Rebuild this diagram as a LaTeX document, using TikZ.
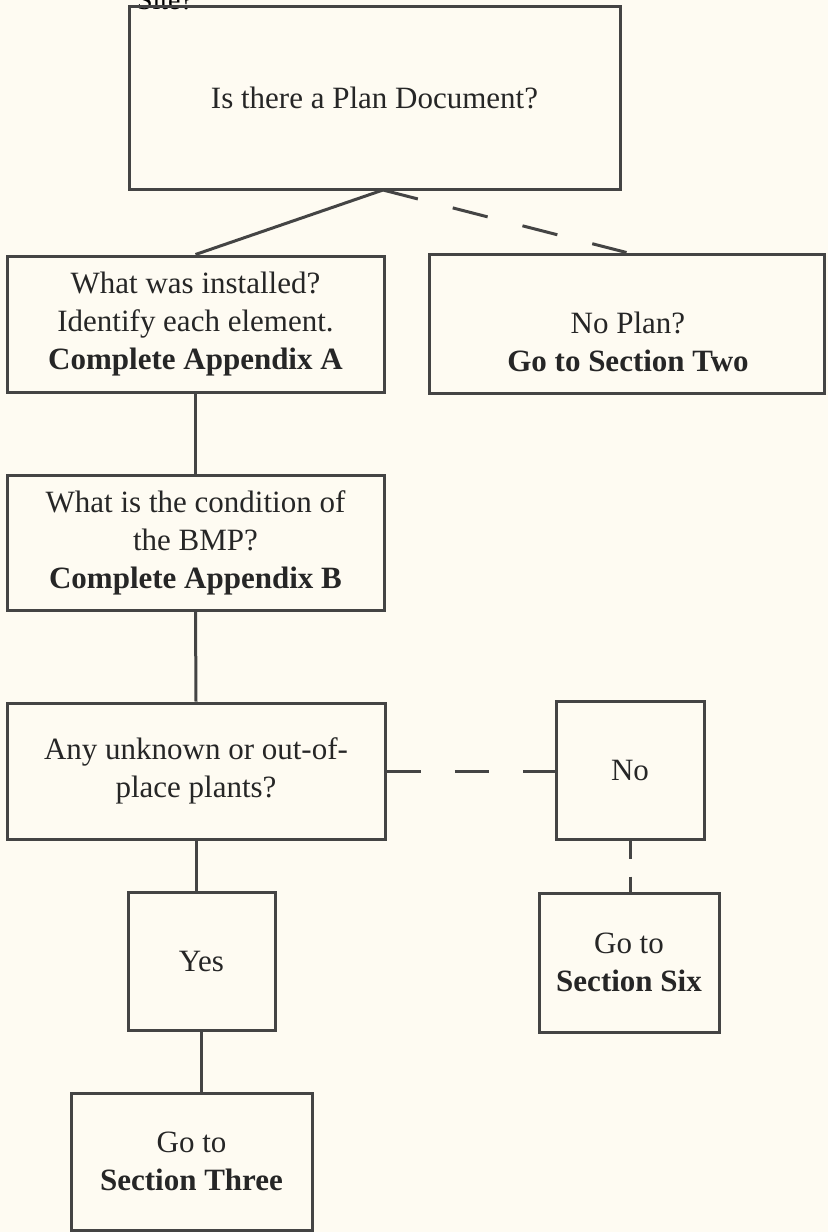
\documentclass[tikz,border=0pt]{standalone}
\usepackage{fontspec}
\setmainfont{Liberation Serif}
\definecolor{paper}{HTML}{FEFBF2}
\definecolor{ink}{HTML}{444444}
\definecolor{txt}{HTML}{262626}
\tikzset{
  box/.style={draw=ink, line width=1.5pt, rectangle, align=center, text=txt,
    font=\fontsize{15.5}{19}\selectfont, inner sep=0pt},
  link/.style={draw=ink, line width=1.5pt},
  dlink/.style={link, dash pattern=on #1 off #1},
  dlink/.default=17pt
}

\begin{document}
\begin{tikzpicture}[x=0.5pt,y=-0.5pt]
    \fill[paper] (0,0) rectangle (828,1232);
    \useasboundingbox (0,0) rectangle (828,1232);
    \node[anchor=base west, font=\fontsize{14}{16}\selectfont] (site) at (130,9) {Site?};
    \node[box, minimum width=245.5pt, minimum height=91.5pt] (plan) at (374.5,97.5) {Is there a Plan Document?};
    \node[box, minimum width=188.5pt, minimum height=68pt] (instl) at (195.5,324)
        {What was installed?\\Identify each element.\\\textbf{Complete Appendix A}};
    \node[box, minimum width=197.5pt, minimum height=69.5pt] (noplan) at (626.5,323.5) {};
    \node[box, draw=none] (noplantxt) at (628,342) {No Plan?\\\textbf{Go to Section Two}};
    \node[box, minimum width=188.5pt, minimum height=67.5pt] (cond) at (195.5,542.5)
        {What is the condition of\\the BMP?\\\textbf{Complete Appendix B}};
    \node[box, minimum width=189pt, minimum height=68pt] (plants) at (196,771)
        {Any unknown or out-of-\\place plants?};
    \node[box, minimum width=74pt, minimum height=69pt] (no) at (630,770) {No};
    \node[box, minimum width=73.5pt, minimum height=69pt] (yes) at (201.5,961) {Yes};
    \node[box, minimum width=90pt, minimum height=69.5pt] (six) at (629,962.5)
        {Go to\\\textbf{Section Six}};
    \node[box, minimum width=120.5pt, minimum height=68.5pt] (three) at (191.5,1161.5)
        {Go to\\\textbf{Section Three}};
    \coordinate (split) at (383,190);
    \draw[link] (split) -- (instl.north);
    \draw[dlink=18pt] (split) -- (noplan.north);
    \draw[link] (instl.south) -- (cond.north);
    \draw[link] (cond.south) -- (plants.north);
    \draw[dlink=17.1pt] (plants.east) -- (plants.east -| no.west);
    \draw[link] (plants.south) -- (plants.south |- yes.north);
    \draw[dlink=9pt] (no.south) -- (no.south |- six.north);
    \draw[link] (yes.south) -- (yes.south |- three.north);
\end{tikzpicture}
\end{document}
